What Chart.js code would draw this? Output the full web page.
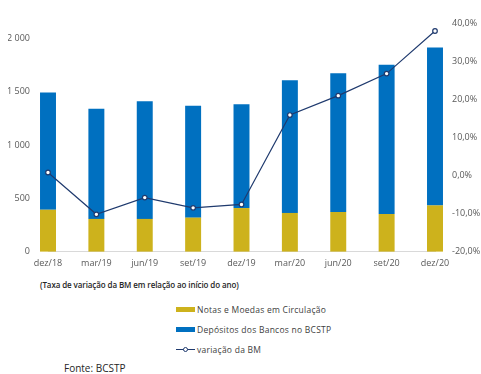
<!DOCTYPE html>
<html lang="pt">
<head>
<meta charset="UTF-8" />
<title>Base Monetária</title>
<script src="https://cdn.jsdelivr.net/npm/chart.js"></script>
<style>
    body { margin: 0; background: #fff; font-family: "Open Sans", sans-serif; }
    #wrap { position: relative; width: 481px; height: 374px; overflow: hidden; }
    #chartBox { position: absolute; left: 0; top: 0; width: 481px; height: 275px; }
    .sub { position: absolute; left: 40px; top: 279px; font-size: 8px; font-weight: 600; color: #262626; letter-spacing: -0.1px; white-space: nowrap; }
    #legend { position: absolute; left: 176px; top: 299px; }
    .item { display: flex; align-items: center; height: 20px; font-size: 8.5px; color: #404040; letter-spacing: 0.25px; white-space: nowrap; }
    .sw { width: 19px; height: 5px; margin-right: 2px; }
    .ln { position: relative; width: 19px; height: 7px; margin-right: 2px; }
    .ln::before { content: ""; position: absolute; left: 0; right: 0; top: 3px; height: 1px; background: #1F3A6E; }
    .ln::after { content: ""; position: absolute; left: 7px; top: 1px; width: 3px; height: 3px; border: 1px solid #1F3A6E; border-radius: 50%; background: #fff; }
    .src { position: absolute; left: 64px; top: 361px; font-size: 10px; color: #262626; white-space: nowrap; }
</style>
</head>
<body>
<div id="wrap">
    <div id="chartBox"><canvas id="bmChart"></canvas></div>
    <div class="sub">(Taxa de variação da BM em relação ao início do ano)</div>
    <div id="legend"></div>
    <div class="src">Fonte: BCSTP</div>
</div>
<script>
    // dados (milhões de dobras / %)
    const labels = ['dez/18', 'mar/19', 'jun/19', 'set/19', 'dez/19', 'mar/20', 'jun/20', 'set/20', 'dez/20'];
    const notas = [393, 307, 307, 319, 409, 363, 372, 353, 434];
    const depositos = [1101, 1035, 1104, 1051, 974, 1246, 1302, 1402, 1482];
    const variacao = [0.8, -10.2, -5.8, -8.5, -7.6, 15.9, 21.0, 26.8, 38.0];
    const leftTicks = [0, 500, 1000, 1500, 2000];
    const rightTicks = [-20, -10, 0, 10, 20, 30, 40];

    const YELLOW = '#CDB21C';
    const BLUE = '#0070C0';
    const NAVY = '#1F3A6E';
    const tickFont = { family: '"Open Sans", sans-serif', size: 9 };

    const ctx = document.getElementById('bmChart').getContext('2d');
    const chart = new Chart(ctx, {
        type: 'bar',
        data: {
            labels: labels,
            datasets: [
                {
                    label: 'Notas e Moedas em Circulação',
                    data: notas,
                    backgroundColor: YELLOW,
                    yAxisID: 'y',
                    stack: 'bm',
                    order: 1,
                    clip: false
                },
                {
                    label: 'Depósitos dos Bancos no BCSTP',
                    data: depositos,
                    backgroundColor: BLUE,
                    yAxisID: 'y',
                    stack: 'bm',
                    order: 1,
                    clip: false
                },
                {
                    type: 'line',
                    label: 'variação da BM',
                    data: variacao,
                    yAxisID: 'y1',
                    borderColor: NAVY,
                    borderWidth: 1.2,
                    pointRadius: 2.3,
                    pointBackgroundColor: '#fff',
                    pointBorderColor: NAVY,
                    pointBorderWidth: 1.2,
                    tension: 0,
                    order: 0,
                    clip: false
                }
            ]
        },
        options: {
            responsive: true,
            maintainAspectRatio: false,
            animation: false,
            layout: { padding: { left: 8, right: 1, top: 19, bottom: 2 } },
            datasets: { bar: { barPercentage: 0.33, categoryPercentage: 1 } },
            scales: {
                x: {
                    offset: false,
                    stacked: true,
                    grid: { display: false, drawTicks: false },
                    border: { color: '#D9D9D9' },
                    ticks: { color: '#595959', font: tickFont, padding: 6, maxRotation: 0, autoSkip: false },
                    afterFit: s => { s.height = 20; }
                },
                y: {
                    position: 'left',
                    stacked: true,
                    min: 0,
                    max: 2143,
                    grid: { display: false, drawTicks: false },
                    border: { display: false },
                    afterBuildTicks: s => { s.ticks = leftTicks.map(v => ({ value: v })); },
                    afterFit: s => { s.width = 40; },
                    ticks: {
                        color: '#595959',
                        font: tickFont,
                        padding: 18,
                        callback: v => String(v).replace(/\B(?=(\d{3})+(?!\d))/g, ' ')
                    }
                },
                y1: {
                    position: 'right',
                    min: -20,
                    max: 40,
                    grid: { display: false, drawTicks: false },
                    border: { display: false },
                    afterBuildTicks: s => { s.ticks = rightTicks.map(v => ({ value: v })); },
                    afterFit: s => { s.width = 45; },
                    ticks: {
                        color: '#595959',
                        font: tickFont,
                        padding: 17,
                        callback: v => v.toFixed(1).replace('.', ',') + '%'
                    }
                }
            },
            plugins: {
                legend: { display: false },
                tooltip: { enabled: false }
            }
        }
    });

    // legenda vertical em HTML
    const legendBox = document.getElementById('legend');
    chart.data.datasets.forEach(ds => {
        const row = document.createElement('div');
        row.className = 'item';
        const sym = document.createElement('span');
        if (ds.type === 'line') {
            sym.className = 'ln';
        } else {
            sym.className = 'sw';
            sym.style.background = ds.backgroundColor;
        }
        row.appendChild(sym);
        row.appendChild(document.createTextNode(ds.label));
        legendBox.appendChild(row);
    });
</script>
</body>
</html>
